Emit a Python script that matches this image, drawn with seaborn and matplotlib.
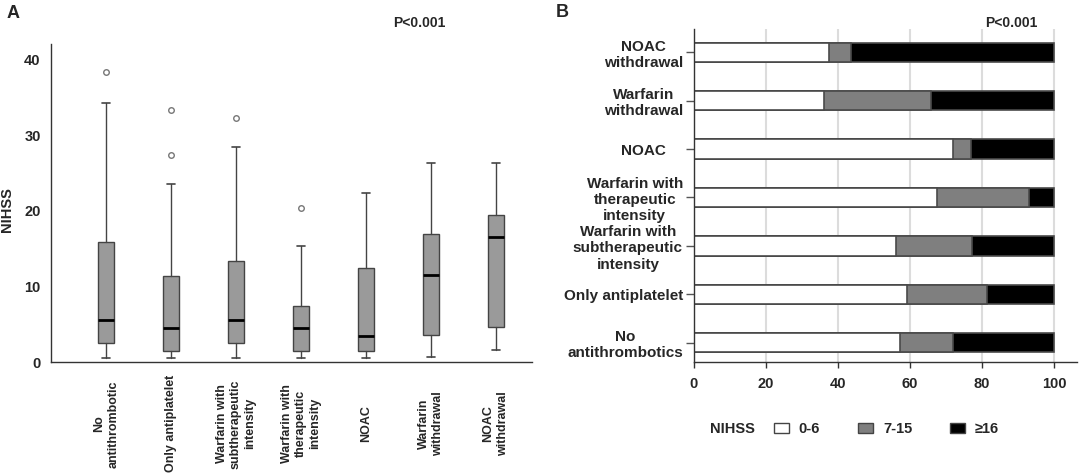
import numpy as np
import pandas as pd
import matplotlib
matplotlib.use("Agg")
import matplotlib.pyplot as plt
from matplotlib.patches import Patch
import seaborn as sns


# ---- panel A: NIHSS by group (box summary) ----
groups_a = ["No\nantithrombotic", "Only antiplatelet",
            "Warfarin with\nsubtherapeutic\nintensity",
            "Warfarin with\ntherapeutic\nintensity",
            "NOAC", "Warfarin\nwithdrawal", "NOAC\nwithdrawal"]
whis_lo = [0.5, 0.5, 0.5, 0.5, 0.5, 0.6, 1.6]
q1 = [2.5, 1.5, 2.5, 1.5, 1.5, 3.6, 4.6]
median = [5.5, 4.5, 5.5, 4.5, 3.5, 11.5, 16.5]
q3 = [15.9, 11.4, 13.4, 7.4, 12.4, 17.0, 19.5]
whis_hi = [34.3, 23.5, 28.4, 15.4, 22.4, 26.4, 26.4]
outliers = [[38.4], [27.4, 33.3], [32.3], [20.4], [], [], []]

# ---- panel B: NIHSS categories (%) per group ----
groups_b = ["NOAC\nwithdrawal", "Warfarin\nwithdrawal", "NOAC    ",
            "Warfarin with\ntherapeutic\nintensity",
            "Warfarin with\nsubtherapeutic\nintensity",
            "Only antiplatelet", "No\nantithrombotics"]
pct_0_6 = [37.4, 36.2, 71.9, 67.6, 56.0, 59.1, 57.1]
pct_7_15 = [6.3, 29.6, 5.1, 25.6, 21.3, 22.3, 14.8]
pct_16 = [56.3, 34.2, 23.0, 6.8, 22.7, 18.6, 28.1]
legend_labels = ["0-6", "7-15", "\u226516"]

sns.set_style("white")
plt.rcParams['font.family'] = ['Liberation Sans', 'DejaVu Sans']
plt.rcParams['font.weight'] = 'bold'
plt.rcParams['axes.labelweight'] = 'bold'

W, H = 1084, 476
fig = plt.figure(figsize=(W / 100, H / 100), dpi=100)
axA = fig.add_axes([51 / W, 1 - 362 / H, (532 - 51) / W, (362 - 44) / H])
axB = fig.add_axes([694 / W, 1 - 362 / H, (1077 - 694) / W, (362 - 28.6) / H])

# ---------------- A ----------------
stats = []
for i in range(len(groups_a)):
    stats.append(dict(whislo=whis_lo[i], q1=q1[i], med=median[i], q3=q3[i],
                      whishi=whis_hi[i], fliers=outliers[i]))
axA.bxp(stats, positions=range(len(groups_a)), widths=0.25, capwidths=0.12,
        patch_artist=True, showfliers=True,
        boxprops=dict(facecolor="#9a9a9a", edgecolor="#444444", linewidth=1),
        medianprops=dict(color="black", linewidth=2),
        whiskerprops=dict(color="#444444", linewidth=1),
        capprops=dict(color="#444444", linewidth=1.2),
        flierprops=dict(marker="o", markerfacecolor="none",
                        markeredgecolor="#777777", markersize=4,
                        markeredgewidth=1))
axA.set_xlim(-0.847, 6.56)
axA.set_ylim(0, 42.1)
axA.set_yticks([0, 10, 20, 30, 40])
axA.set_xticks(range(len(groups_a)))
axA.set_xticklabels(groups_a, rotation=90, va="center", ha="center",
                    multialignment="center", fontsize=9, linespacing=1.25)
axA.tick_params(axis="x", length=6.5, width=1, color="#333333", pad=38)
axA.tick_params(axis="y", length=6, width=1, color="#333333", pad=1.5,
                labelsize=10.5)
axA.set_ylabel("NIHSS", fontsize=10.5, fontweight="bold")
axA.yaxis.set_label_coords(-0.077, 0.478)
for s in ["top", "right"]:
    axA.spines[s].set_visible(False)
for s in ["left", "bottom"]:
    axA.spines[s].set_color("#333333")
    axA.spines[s].set_linewidth(1)

# ---------------- B ----------------
cum_mid = [a + b for a, b in zip(pct_0_6, pct_7_15)]
cum_all = [a + b for a, b in zip(cum_mid, pct_16)]
bar_kw = dict(orient="h", order=groups_b, width=0.4, errorbar=None,
              edgecolor="#4a4a4a", linewidth=1.2, ax=axB)
sns.barplot(x=cum_all, y=groups_b, color="black", **bar_kw)
sns.barplot(x=cum_mid, y=groups_b, color="#7f7f7f", **bar_kw)
sns.barplot(x=pct_0_6, y=groups_b, color="white", **bar_kw)
axB.set_xlim(0, 106.4)
axB.set_ylim(6.4, -0.49)
axB.set_xticks([0, 20, 40, 60, 80, 100])
axB.grid(axis="x", color="#dcdcdc", linewidth=1.5)
axB.grid(axis="y", visible=False)
axB.set_axisbelow(True)
axB.set_xlabel("")
axB.set_ylabel("")
axB.tick_params(axis="x", length=4, width=1, color="#333333", pad=6.5,
                labelsize=10.5, bottom=True)
axB.tick_params(axis="y", length=6, width=1, color="#555555", pad=2,
                labelsize=11, left=True)
for lab in axB.get_yticklabels():
    lab.set_multialignment("center")
    lab.set_linespacing(1.2)
for s in ["top", "right"]:
    axB.spines[s].set_visible(False)
for s in ["left", "bottom"]:
    axB.spines[s].set_color("#333333")
    axB.spines[s].set_linewidth(1)

# legend
handles = [Patch(facecolor=c, edgecolor="#444444", linewidth=1)
           for c in ["white", "#7f7f7f", "black"]]
fig.legend(handles, legend_labels, ncol=3, loc="center left",
           bbox_to_anchor=(774 / W, 1 - 429 / H), frameon=False,
           handlelength=1.0, handleheight=0.65, handletextpad=0.7,
           columnspacing=2.6, borderpad=0, borderaxespad=0,
           prop=dict(size=10.5, weight="bold"))
fig.text(710 / W, 1 - 429 / H, "NIHSS", fontsize=10.5, fontweight="bold",
         va="center", ha="left")

# panel letters and p values
fig.text(7 / W, 1 - 13 / H, "A", fontsize=13, fontweight="bold", va="center")
fig.text(556 / W, 1 - 12.5 / H, "B", fontsize=13, fontweight="bold", va="center")
fig.text(419.5 / W, 1 - 23 / H, "P<0.001", fontsize=10, fontweight="bold",
         va="center", ha="center")
fig.text(1011.5 / W, 1 - 23 / H, "P<0.001", fontsize=10, fontweight="bold",
         va="center", ha="center")

fig.savefig("out.png", dpi=100)
